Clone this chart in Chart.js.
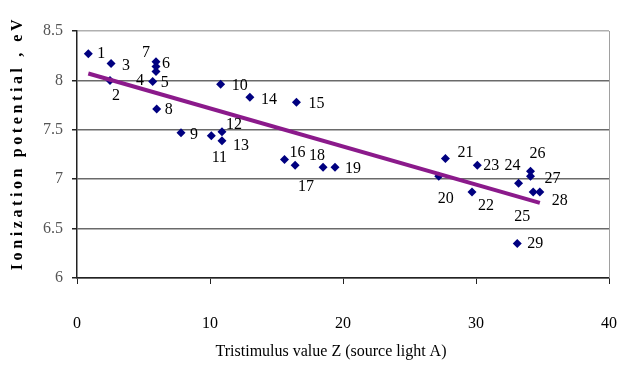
<!DOCTYPE html>
<html>
<head>
<meta charset="utf-8">
<script src="https://cdn.jsdelivr.net/npm/chart.js@4"></script>
<style>
  html, body { margin: 0; padding: 0; background: #fff; }
</style>
</head>
<body>
<canvas id="chart" width="619" height="365"></canvas>
<script>
// tristimulus value Z (source light A) and ionization potential (eV), samples 1..29
var zValues = [0.85, 2.48, 2.56, 5.94, 5.69, 5.94, 5.94, 5.99, 7.82, 10.8,
               10.1, 10.9, 10.9, 13.0, 16.5, 15.6, 16.4, 18.5, 19.4, 27.2,
               27.7, 29.7, 30.1, 33.2, 34.3, 34.1, 34.1, 34.8, 33.1];
var ipValues = [8.27, 8.00, 8.17, 8.09, 7.99, 8.14, 8.19, 7.71, 7.47, 7.96,
                7.44, 7.48, 7.39, 7.83, 7.78, 7.20, 7.14, 7.12, 7.12, 7.03,
                7.21, 6.87, 7.14, 6.96, 6.87, 7.08, 7.03, 6.87, 6.35];
var sampleNames = ['1','2','3','4','5','6','7','8','9','10',
                   '11','12','13','14','15','16','17','18','19','20',
                   '21','22','23','24','25','26','27','28','29'];

// linear trend, end points
var trendZ = [0.85, 34.8];
var trendIP = [8.07, 6.76];

var xTicks = [0, 10, 20, 30, 40];
var yTicks = [6, 6.5, 7, 7.5, 8, 8.5];

// where each number sits relative to its marker (px)
var labelShift = [[13,0],[6,15],[15,2],[-16,9],[12,1],[10,-3],[-10,-9],[12,1],[13,2],[19,1],
                  [8,22],[12,-7],[19,5],[19,3],[20,2],[13,-7],[11,21],[-6,-12],[18,1],[7,23],
                  [20,-6],[14,14],[14,0],[-6,-17],[-11,25],[7,-17],[22,3],[20,9],[18,0]];

var serif = '"Liberation Serif", "Times New Roman", serif';

var points = zValues.map(function (z, i) { return { x: z, y: ipValues[i] }; });
var trend = trendZ.map(function (z, i) { return { x: z, y: trendIP[i] }; });

var pointNumbers = {
    id: 'pointNumbers',
    afterDatasetsDraw: function (chart) {
        var ctx = chart.ctx;
        var meta = chart.getDatasetMeta(1);
        ctx.save();
        ctx.font = '16px ' + serif;
        ctx.fillStyle = '#000';
        ctx.textAlign = 'center';
        ctx.textBaseline = 'middle';
        meta.data.forEach(function (pt, i) {
            ctx.fillText(sampleNames[i], pt.x + labelShift[i][0], pt.y + labelShift[i][1]);
        });
        ctx.restore();
    }
};

var frameAndTitles = {
    id: 'frameAndTitles',
    afterDraw: function (chart) {
        var ctx = chart.ctx;
        var a = chart.chartArea;
        ctx.save();
        ctx.strokeStyle = '#a0a0a0';
        ctx.lineWidth = 1;
        ctx.beginPath();
        ctx.moveTo(a.right + 0.5, a.top);
        ctx.lineTo(a.right + 0.5, a.bottom);
        ctx.stroke();

        ctx.fillStyle = '#000';
        ctx.textAlign = 'center';
        ctx.textBaseline = 'middle';
        ctx.font = '16px ' + serif;
        ctx.fillText('Tristimulus value Z (source light A)', 331, 352);

        ctx.translate(18, 143);
        ctx.rotate(-Math.PI / 2);
        ctx.font = 'bold 16px ' + serif;
        ctx.letterSpacing = '3.6px';
        ctx.fillText('Ionization potential , eV', 0, 0);
        ctx.restore();
    }
};

var ctx = document.getElementById('chart').getContext('2d');
var myChart = new Chart(ctx, {
    type: 'scatter',
    data: {
        datasets: [{
            type: 'line',
            data: trend,
            showLine: true,
            borderColor: '#8b1a8b',
            borderWidth: 4,
            pointRadius: 0,
            order: 0
        }, {
            data: points,
            pointStyle: 'rectRot',
            pointRadius: 4.5,
            backgroundColor: '#000080',
            borderColor: '#000080',
            borderWidth: 0,
            order: 1
        }]
    },
    options: {
        responsive: false,
        animation: false,
        layout: { padding: { top: 31, right: 10, left: 0, bottom: 0 } },
        plugins: {
            legend: { display: false },
            tooltip: { enabled: false }
        },
        scales: {
            x: {
                type: 'linear',
                min: 0,
                max: 40,
                afterBuildTicks: function (s) { s.ticks = xTicks.map(function (v) { return { value: v }; }); },
                afterFit: function (s) { s.height = 87; s.paddingLeft = 0; s.paddingRight = 0; },
                ticks: { padding: 30, color: '#000', font: { family: serif, size: 16 } },
                grid: { drawOnChartArea: false, tickLength: 6, color: '#222' },
                border: { color: '#222', width: 1.5 }
            },
            y: {
                min: 6,
                max: 8.5,
                afterBuildTicks: function (s) { s.ticks = yTicks.map(function (v) { return { value: v }; }); },
                afterFit: function (s) { s.width = 77; s.paddingTop = 0; s.paddingBottom = 0; },
                ticks: {
                    padding: 9,
                    color: '#555',
                    font: { family: serif, size: 16 },
                    callback: function (v) { return String(v); }
                },
                grid: {
                    tickLength: 5,
                    tickColor: '#222',
                    lineWidth: 1.5,
                    color: function (c) { return c.tick && c.tick.value === 8.5 ? '#b0b0b0' : '#6a6a6a'; }
                },
                border: { color: '#222', width: 1.5 }
            }
        }
    },
    plugins: [pointNumbers, frameAndTitles]
});
</script>
</body>
</html>
